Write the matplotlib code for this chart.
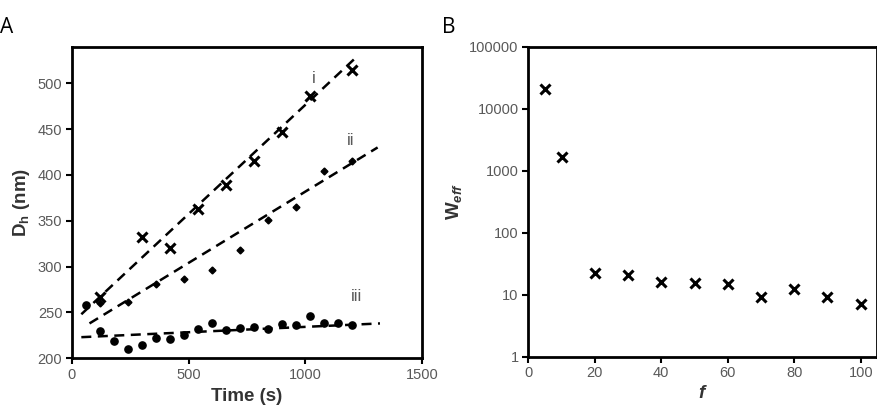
import matplotlib
matplotlib.use("Agg")
import matplotlib.pyplot as plt
from matplotlib.ticker import FixedLocator, NullLocator

plt.rcParams['font.family'] = ['Liberation Sans', 'DejaVu Sans']
plt.rcParams['mathtext.fontset'] = 'custom'
plt.rcParams['mathtext.rm'] = 'Liberation Sans'
plt.rcParams['mathtext.bf'] = 'Liberation Sans:bold'
plt.rcParams['mathtext.it'] = 'Liberation Sans:italic'
plt.rcParams['mathtext.bfit'] = 'Liberation Sans:bold:italic'

# Panel A data
t_i = [120, 300, 420, 540, 660, 780, 900, 1020, 1200]
d_i = [267, 332, 320, 363, 389, 415, 447, 486, 514]
t_ii = [120, 240, 360, 480, 600, 720, 840, 960, 1080, 1200]
d_ii = [260, 261, 281, 286, 296, 318, 351, 365, 404, 415]
t_iii = [60, 120, 180, 240, 300, 360, 420, 480, 540, 600, 660, 720, 780, 840,
         900, 960, 1020, 1080, 1140, 1200]
d_iii = [258, 230, 219, 210, 215, 222, 221, 225, 232, 238, 231, 233, 234, 232,
         237, 236, 246, 239, 238, 236]
# trendline endpoints
fit_i_t = [40, 1225]
fit_i_d = [248, 530]
fit_ii_t = [75, 1310]
fit_ii_d = [238, 430]
fit_iii_t = [40, 1320]
fit_iii_d = [223, 238]

# Panel B data
f_vals = [5, 10, 20, 30, 40, 50, 60, 70, 80, 90, 100]
w_eff = [21000, 1680, 22, 20.5, 16.2, 15.6, 15, 9.3, 12.2, 9.3, 7.2]

xticksA = [0, 500, 1000, 1500]
yticksA = [200, 250, 300, 350, 400, 450, 500]
xticksB = [0, 20, 40, 60, 80, 100]
yticksB = [1, 10, 100, 1000, 10000, 100000]
yticklabelsB = ['1', '10', '100', '1000', '10000', '100000']

gray = '#595959'
fig = plt.figure(figsize=(8.78, 4.2), dpi=100)
axA = fig.add_axes([0.082, 0.147, 0.3986, 0.742])
axB = fig.add_axes([0.6017, 0.1507, 0.3968, 0.7383])

dash = (0, (4, 2.6))
for ax in (axA, axB):
    for s in ax.spines.values():
        s.set_linewidth(2)
        s.set_color('black')
    ax.tick_params(axis='both', direction='out', length=4, width=1.5,
                   colors='black', labelcolor=gray, labelsize=10.5, pad=3)

axA.plot(fit_i_t, fit_i_d, color='black', lw=1.8, linestyle=dash)
axA.plot(fit_ii_t, fit_ii_d, color='black', lw=1.8, linestyle=dash)
axA.plot(fit_iii_t, fit_iii_d, color='black', lw=1.8, linestyle=dash)
axA.plot(t_i, d_i, linestyle='none', marker='x', ms=6.5, mew=2.2, color='black')
axA.plot(t_ii, d_ii, linestyle='none', marker='D', ms=3.5, color='black')
axA.plot(t_iii, d_iii, linestyle='none', marker='o', ms=5.2, color='black')
axA.text(1036, 505, 'i', color=gray, fontsize=12, ha='center', va='center')
axA.text(1193, 438, 'ii', color=gray, fontsize=12, ha='center', va='center')
axA.text(1221, 267, 'iii', color=gray, fontsize=12, ha='center', va='center')
axA.set_xlim(0, 1500)
axA.set_ylim(200, 540)
axA.xaxis.set_major_locator(FixedLocator(xticksA))
axA.yaxis.set_major_locator(FixedLocator(yticksA))
axA.set_xlabel('Time (s)', fontsize=13.5, fontweight='bold', color='#333333', labelpad=4)
axA.set_ylabel(r'D$_\mathbf{h}$ (nm)', fontsize=13.5, fontweight='bold', color='#333333', labelpad=4)

axB.plot(f_vals, w_eff, linestyle='none', marker='x', ms=6.5, mew=2.2, color='black')
axB.set_yscale('log')
axB.set_xlim(0, 104.8)
axB.set_ylim(1, 100000)
axB.xaxis.set_major_locator(FixedLocator(xticksB))
axB.yaxis.set_major_locator(FixedLocator(yticksB))
axB.yaxis.set_minor_locator(NullLocator())
axB.set_yticklabels(yticklabelsB)
axB.set_xlabel(r'$\mathbfit{f}$', fontsize=13.5, color='#333333', labelpad=3)
axB.set_ylabel(r'W$_{\mathbfit{eff}}$', fontsize=13.5, fontweight='bold', color='#333333', labelpad=4)

fig.text(0.0, 0.935, 'A', fontsize=15, color='black', ha='left', va='center',
         family=['Open Sans', 'DejaVu Sans'])
fig.text(0.503, 0.935, 'B', fontsize=15, color='black', ha='left', va='center',
         family=['Open Sans', 'DejaVu Sans'])

fig.savefig('out.png', dpi=100)
